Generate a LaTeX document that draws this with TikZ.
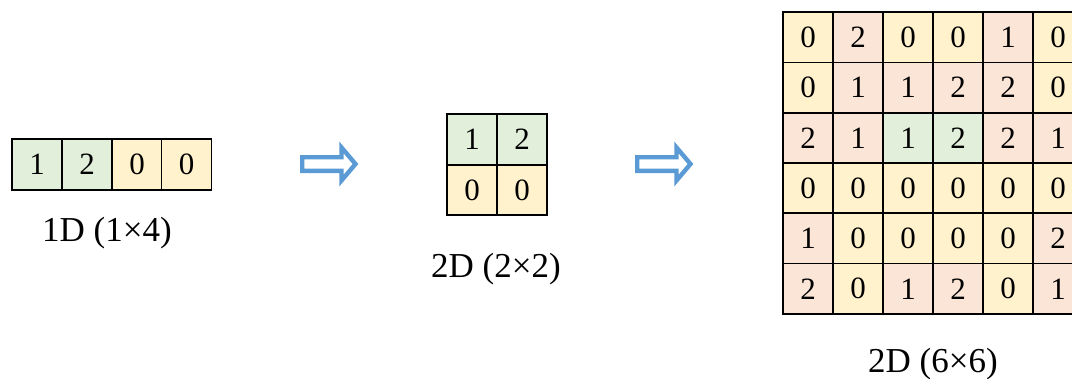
\documentclass[tikz,border=0pt]{standalone}
\usepackage{fontspec}
\setmainfont{Liberation Serif}
\definecolor{cg}{HTML}{E2EFDA}
\definecolor{cy}{HTML}{FFF2CC}
\definecolor{cp}{HTML}{FBE5D6}
\definecolor{ab}{HTML}{5B9BD5}
\begin{document}
\begin{tikzpicture}[x=1pt,y=-1pt,
  cellbox/.style={draw=black,line width=1.7pt,minimum width=50pt,minimum height=50.5pt,inner sep=0pt,anchor=center,font=\fontsize{31}{31}\selectfont},
  G/.style={cellbox,fill=cg},
  Y/.style={cellbox,fill=cy},
  P/.style={cellbox,fill=cp},
  lbl/.style={font=\fontsize{35}{35}\selectfont,anchor=base,inner sep=0pt},
  blockarrow/.style={draw=ab,line width=4.4pt,fill=white,line join=miter}]
\useasboundingbox (0,0) rectangle (1072,378);
% 1D strip
\node[G] (a1) at (37,164.5) {1};
\node[G] (a2) at (87,164.5) {2};
\node[Y] (a3) at (137,164.5) {0};
\node[Y] (a4) at (186.5,164.5) {0};
\node[lbl] (l1) at (107,241) {1D (1×4)};
% arrow 1
\draw[blockarrow] (302.2,157.2) -- (341.5,157.2) -- (341.5,147.5) -- (355.5,164) -- (341.5,180.5) -- (341.5,170.8) -- (302.2,170.8) -- cycle;
% 2x2
\node[G] (b11) at (472,139.5) {1};
\node[G] (b12) at (522,139.5) {2};
\node[Y] (b21) at (472,190) {0};
\node[Y] (b22) at (522,190) {0};
\node[lbl] (l2) at (496,277) {2D (2×2)};
% arrow 2
\draw[blockarrow] (637.2,157.2) -- (676.5,157.2) -- (676.5,147.5) -- (690.5,164) -- (676.5,180.5) -- (676.5,170.8) -- (637.2,170.8) -- cycle;
% 6x6
\foreach \r/\row in {1/{Y/0,P/2,Y/0,Y/0,P/1,Y/0},
                     2/{Y/0,P/1,P/1,P/2,P/2,Y/0},
                     3/{P/2,P/1,G/1,G/2,P/2,P/1},
                     4/{Y/0,Y/0,Y/0,Y/0,Y/0,Y/0},
                     5/{P/1,Y/0,Y/0,Y/0,Y/0,P/2},
                     6/{P/2,Y/0,P/1,P/2,Y/0,P/1}} {
  \foreach \s/\v [count=\c] in \row {
    \node[\s] (m\r\c) at ({758+50*\c},{-13+50.3*\r}) {\v};
  }
}
\node[lbl] (l3) at (933,372) {2D (6×6)};
\end{tikzpicture}
\end{document}
